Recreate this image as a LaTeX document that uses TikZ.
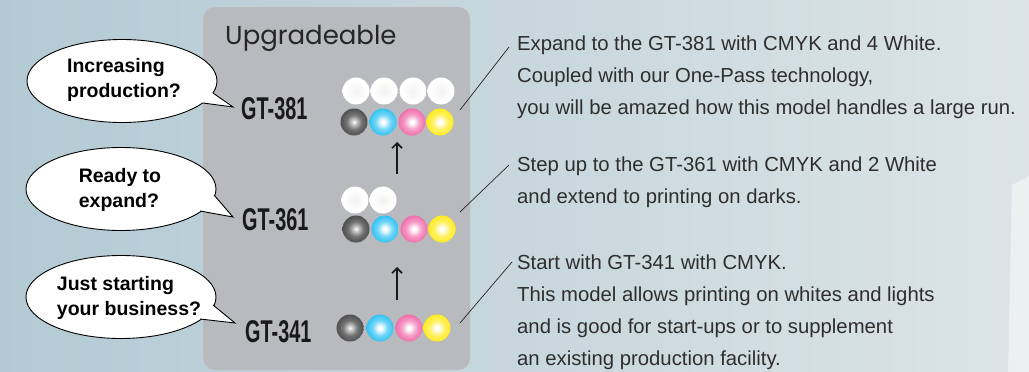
\documentclass[tikz,border=0pt]{standalone}
\usepackage{fontspec}
\setmainfont{Liberation Sans}
\newfontfamily\geo{Poppins}
\usetikzlibrary{shapes.geometric,arrows.meta}
\definecolor{bgL}{HTML}{B3CAD4}
\definecolor{bgR}{HTML}{DCE4E7}
\definecolor{panelc}{HTML}{B9BABE}
\definecolor{txt}{HTML}{2E2E2E}
\definecolor{cyanb}{HTML}{00B4F0}
\definecolor{magb}{HTML}{EC4C98}
\definecolor{yelb}{HTML}{FFE800}
\pgfdeclareradialshading{sblk}{\pgfpoint{0bp}{0bp}}{color(0bp)=(white); color(3bp)=(white!85!black); color(14bp)=(black!55); color(30bp)=(black!75); color(50bp)=(black!92)}
\pgfdeclareradialshading{scya}{\pgfpoint{0bp}{0bp}}{color(0bp)=(white); color(3bp)=(white); color(14bp)=(cyanb!55!white); color(30bp)=(cyanb!92!white); color(50bp)=(cyanb!92!black)}
\pgfdeclareradialshading{smag}{\pgfpoint{0bp}{0bp}}{color(0bp)=(white); color(3bp)=(white); color(14bp)=(magb!55!white); color(30bp)=(magb!92!white); color(50bp)=(magb!92!black)}
\pgfdeclareradialshading{syel}{\pgfpoint{0bp}{0bp}}{color(0bp)=(white); color(3bp)=(white); color(14bp)=(yelb!60!white); color(30bp)=(yelb); color(50bp)=(yelb!94!black)}
\pgfdeclareradialshading{swht}{\pgfpoint{0bp}{0bp}}{color(0bp)=(white!95!black); color(20bp)=(white); color(46bp)=(white); color(50bp)=(white!93!black)}
\begin{document}
\begin{tikzpicture}[x=1pt,y=-1pt,
  bubble/.style={ellipse, draw=black, line width=0.9pt, fill=white, minimum width=190pt, minimum height=83pt, inner sep=0pt},
  btext/.style={align=left, inner sep=0pt, font=\bfseries\fontsize{19.5}{24.5}\selectfont, text=black},
  tailedge/.style={draw=black, line width=0.9pt, line join=miter},
  model/.style={inner sep=0pt, anchor=base west, text=black!90, font=\bfseries\fontsize{31.5}{31.5}\selectfont},
  ball/.style={circle, minimum size=27pt, inner sep=0pt, shading=#1},
  desc/.style={anchor=base west, align=left, inner sep=0pt, text=txt, font=\fontsize{20.3}{32}\selectfont},
  lead/.style={draw=black!85, line width=0.7pt},
  upar/.style={draw=black!90, line width=2pt, -{Straight Barb[length=5pt,width=10pt,line width=1.6pt]}},
]
\useasboundingbox (0,0) rectangle (1029,372);
% background
\shade[left color=bgL, right color=bgR] (0,0) rectangle (1029,372);
\fill[white, opacity=0.45] (1012,185) -- (1029,176) -- (1029,372) -- (1008,372) -- cycle;
% panel
\fill[panelc, rounded corners=12pt] (203,7) rectangle (470,370);
\node[inner sep=0pt, anchor=base west, font=\geo\fontsize{26}{26}\selectfont, text=black!85] (title) at (225,45) {Upgradeable};

% bubbles
\node[bubble] (b1) at (122,81) {};
\fill[white] (213,93) -- (233,107) -- (203,103) -- (198,95) -- cycle;
\draw[tailedge] (213,93) -- (233,107) -- (203,103);
\node[btext] (b1t) at (124,80) {Increasing\\production?};

\node[bubble] (b2) at (121,189) {};
\fill[white] (214,195) -- (233,217) -- (200,211) -- (200,200) -- cycle;
\draw[tailedge] (214,195) -- (233,217) -- (200,211);
\node[btext] (b2t) at (120,190) {Ready to\\expand?};

\node[bubble] (b3) at (121,297) {};
\fill[white] (213,305) -- (235,323) -- (200,319) -- (200,308) -- cycle;
\draw[tailedge] (213,305) -- (235,323) -- (200,319);
\node[btext] (b3t) at (129,298) {Just starting\\your business?};

% models
\node[model] (m381) at (241,119) {\scalebox{0.63}[1]{GT-381}};
\node[model] (m361) at (242,230) {\scalebox{0.63}[1]{GT-361}};
\node[model] (m341) at (245,342) {\scalebox{0.63}[1]{GT-341}};

% row 381
\node[ball=swht] (w1a) at (356,91) {};
\node[ball=swht] (w1b) at (384,91) {};
\node[ball=swht] (w1c) at (413,91) {};
\node[ball=swht] (w1d) at (441,91) {};
\node[ball=sblk] (k1) at (354,122) {};
\node[ball=scya] (c1) at (383,122) {};
\node[ball=smag] (m1) at (412,122) {};
\node[ball=syel] (y1) at (440,122) {};
% row 361
\node[ball=swht] (w2a) at (355,200) {};
\node[ball=swht] (w2b) at (383,200) {};
\node[ball=sblk] (k2) at (356,229) {};
\node[ball=scya] (c2) at (385,229) {};
\node[ball=smag] (m2) at (414,229) {};
\node[ball=syel] (y2) at (442,229) {};
% row 341
\node[ball=sblk] (k3) at (350,328) {};
\node[ball=scya] (c3) at (380,328) {};
\node[ball=smag] (m3) at (409,328) {};
\node[ball=syel] (y3) at (437,328) {};

% arrows
\coordinate (a1s) at (397,174);
\coordinate (a1e) at (397,142);
\coordinate (a2s) at (397,300);
\coordinate (a2e) at (397,267);
\draw[upar] (a1s) -- (a1e);
\draw[upar] (a2s) -- (a2e);

% descriptions (base anchor = last line)
\node[desc] (d1) at (517,114) {Expand to the GT-381 with CMYK and 4 White.\\Coupled with our One-Pass technology,\\you will be amazed how this model handles a large run.};
\node[desc] (d2) at (517,203) {Step up to the GT-361 with CMYK and 2 White\\and extend to printing on darks.};
\node[desc] (d3) at (517,365) {Start with GT-341 with CMYK.\\This model allows printing on whites and lights\\and is good for start-ups or to supplement\\an existing production facility.};

% leader lines
\coordinate (l1s) at (460,110);
\coordinate (l1e) at (509,47);
\coordinate (l2s) at (460,212);
\coordinate (l2e) at (509,165);
\coordinate (l3s) at (460,323);
\coordinate (l3e) at (512,262);
\draw[lead] (l1s) -- (l1e);
\draw[lead] (l2s) -- (l2e);
\draw[lead] (l3s) -- (l3e);
\end{tikzpicture}
\end{document}
